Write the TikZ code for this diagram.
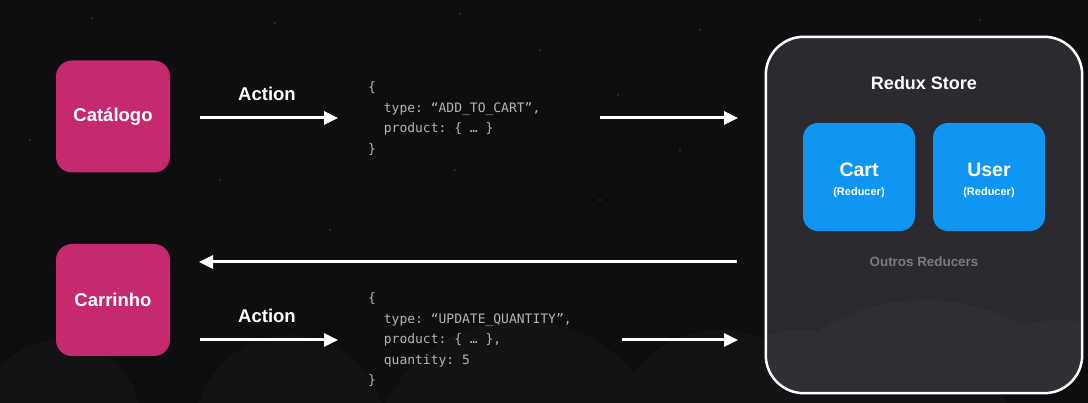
\documentclass[tikz,border=0pt]{standalone}
\usepackage{fontspec}
\setmainfont{Liberation Sans}
\setmonofont{DejaVu Sans Mono}
\usetikzlibrary{arrows.meta}
\definecolor{bgc}{HTML}{0E0D10}
\definecolor{cloudc}{HTML}{131315}
\definecolor{storec}{HTML}{2B2A2F}
\definecolor{storecloud}{HTML}{303034}
\definecolor{pinkc}{HTML}{C42A6D}
\definecolor{bluec}{HTML}{0F95F2}
\definecolor{codec}{HTML}{B4B4B4}
\definecolor{mutedc}{HTML}{7A7A7F}
\tikzset{
  comp/.style={fill=pinkc, rounded corners=16pt, minimum width=114pt, minimum height=112pt, text=white, font=\fontsize{18.5}{22}\selectfont\bfseries},
  reducer/.style={fill=bluec, rounded corners=15pt, minimum width=112pt, minimum height=108pt, text=white, align=center, font=\fontsize{11}{19}\selectfont\bfseries},
  flow/.style={draw=white, line width=3pt, -{Triangle[length=14pt,width=13pt]}},
  lbl/.style={text=white, font=\fontsize{18.5}{22}\selectfont\bfseries},
  code/.style={text=codec, font=\fontsize{13}{20.5}\ttfamily, align=left, inner sep=0pt, anchor=west},
}
\begin{document}
\begin{tikzpicture}[x=1pt,y=-1pt]
\useasboundingbox (0,0) rectangle (1088,403);
\fill[bgc] (0,0) rectangle (1088,403);
% background clouds
\begin{scope}
\clip (0,0) rectangle (1088,403);
\fill[cloudc] (60,420) circle (80);
\fill[cloudc] (290,430) circle (95);
\fill[cloudc] (520,470) circle (150);
\fill[cloudc] (720,440) circle (110);
\fill[cloudc] (900,460) circle (120);
\end{scope}
% faint stars
\foreach \p in {(92,18),(275,23),(460,14),(540,50),(618,95),(455,170),(220,180),(600,200),(680,150),(330,230),(700,30),(30,140),(980,20)}
  \fill[white,opacity=0.12] \p circle (1.3);

% nodes
\node[comp] (cat) at (113,116.5) {Catálogo};
\node[comp] (car) at (113,300) {Carrinho};

\node[code] (code1) at (368,118.5) {\{\\\phantom{xx}type: “ADD\_TO\_CART”,\\\phantom{xx}product: \{ … \}\\\}};
\node[code] (code2) at (368,340) {\{\\\phantom{xx}type: “UPDATE\_QUANTITY”,\\\phantom{xx}product: \{ … \},\\\phantom{xx}quantity: 5\\\}};

% store
\node[fill=storec, rounded corners=38pt, minimum width=316pt, minimum height=356pt, inner sep=0pt] (store) at (924,215) {};
\begin{scope}
\clip[rounded corners=37pt] (767.5,38.5) rectangle (1080.5,391.5);
\fill[storecloud] (800,430) circle (100);
\fill[storecloud] (925,500) circle (200);
\fill[storecloud] (1060,450) circle (130);
\end{scope}
\draw[white, line width=2.5pt, rounded corners=38pt] (store.north west) rectangle (store.south east);
\node[text=white, font=\fontsize{18}{22}\selectfont\bfseries] (title) at (924,83) {Redux Store};
\node[reducer] (cart) at (859,177) {};
\node[reducer] (user) at (989,177) {};
\node[text=white, align=center, font=\fontsize{11}{19}\selectfont\bfseries] (cartt) at (859,180) {{\fontsize{19.5}{22}\selectfont Cart}\\(Reducer)};
\node[text=white, align=center, font=\fontsize{11}{19}\selectfont\bfseries] (usert) at (989,180) {{\fontsize{19.5}{22}\selectfont User}\\(Reducer)};
\node[text=mutedc, font=\fontsize{13.4}{16}\selectfont\bfseries] (others) at (924,262) {Outros Reducers};

% arrows
\coordinate (a1s) at (200,118);
\coordinate (a1e) at (338,118);
\coordinate (b1s) at (600,118);
\coordinate (b1e) at (738,118);
\coordinate (rs) at (737,262);
\coordinate (re) at (199,262);
\coordinate (a2s) at (200,340);
\coordinate (a2e) at (338,340);
\coordinate (b2s) at (622,340);
\coordinate (b2e) at (738,340);
\draw[flow] (a1s) -- (a1e);
\draw[flow] (b1s) -- (b1e);
\draw[flow] (rs) -- (re);
\draw[flow] (a2s) -- (a2e);
\draw[flow] (b2s) -- (b2e);
\node[lbl] (act1) at (267,94) {Action};
\node[lbl] (act2) at (267,316) {Action};
\end{tikzpicture}
\end{document}
